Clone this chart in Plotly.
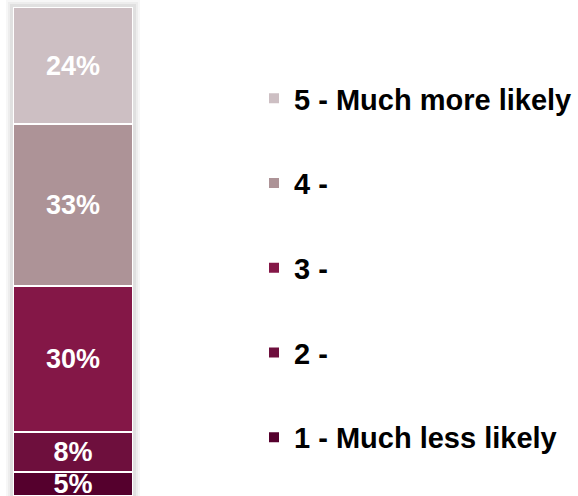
import plotly.graph_objects as go

# Data
categories = ["Total"]
series_names = ["1 - Much less likely", "2 -", "3 -", "4 -", "5 - Much more likely"]
series_values = [5, 8, 30, 33, 24]
series_colors = ["#55002D", "#6E0F3D", "#841747", "#AD9397", "#CDBFC3"]

W, H = 578, 496
fig = go.Figure()
n = len(series_names)
for i, (name, val, col) in enumerate(zip(series_names, series_values, series_colors)):
    fig.add_trace(go.Bar(
        x=categories, y=[val], name=name,
        marker=dict(color=col, line=dict(color="white", width=2)),
        texttemplate="%{y}%", textposition="inside", insidetextanchor="middle",
        textfont=dict(family="Liberation Sans, Arial", size=27, color="white", weight="bold"),
        width=1, legendgroup=name, legendrank=n - i,
    ))

# soft shadow behind bar
shapes = []
for pad, op in [(7, 0.03), (5, 0.04), (3, 0.05)]:
    shapes.append(dict(type="rect", xref="paper", yref="paper", layer="below",
                       x0=(13 - pad) / W, x1=(133 + pad) / W, y0=0, y1=(489 + pad) / H,
                       fillcolor=f"rgba(0,0,0,{op})", line=dict(width=0)))

fig.update_layout(
    width=W, height=H, barmode="stack",
    margin=dict(l=0, r=0, t=0, b=0, autoexpand=False),
    paper_bgcolor="white", plot_bgcolor="rgba(0,0,0,0)",
    xaxis=dict(domain=[13 / W, 133 / W], range=[-0.5, 0.5], visible=False),
    yaxis=dict(domain=[0, 489 / H], range=[0, 100], visible=False),
    uniformtext=dict(minsize=27, mode="show"),
    showlegend=True,
    legend=dict(
        x=254 / W, y=(H - 73) / H, xanchor="left", yanchor="top",
        traceorder="grouped", tracegroupgap=44,
        font=dict(family="Liberation Sans, Arial", size=29, color="black", weight="bold"),
        bgcolor="rgba(0,0,0,0)",
    ),
    shapes=shapes,
)
fig.write_html("out.html", config={"displayModeBar": False},
               post_script="document.body.style.margin='0';")
